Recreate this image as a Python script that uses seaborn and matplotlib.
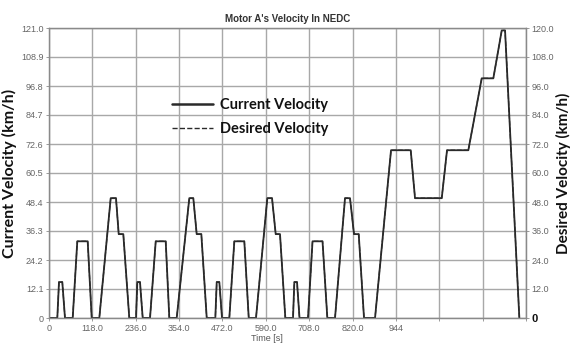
import matplotlib
matplotlib.use("Agg")
import matplotlib.pyplot as plt
import seaborn as sns
import pandas as pd

# ---- data ----
time_s = [0, 22.6, 27.2, 36.2, 43.5, 64.5, 77.0, 105.3, 116.2, 136.9, 167.9, 182.3, 189.7, 202.2, 218.5,
          236.8, 240.3, 247.6, 255.0, 274.9, 290.4, 317.6, 327.4, 347.5, 381.8, 392.7, 401.9, 414.5, 429.2,
          452.6, 456.4, 463.5, 470.8, 490.7, 504.3, 531.5, 543.5, 563.3, 594.1, 606.9, 616.9, 628.6, 643.1,
          664.0, 667.6, 674.9, 681.7, 704.8, 717.1, 744.3, 757.4, 778.3, 805.5, 819.1, 830.0, 842.8, 857.2,
          887.2, 930.7, 984.3, 996.0, 1068.7, 1083.1, 1141.1, 1177.5, 1209.1, 1232.0, 1241.0, 1279.9]
current_velocity = [0, 0, 15, 15, 0, 0, 32, 32, 0, 0, 50, 50, 35, 35, 0,
                    0, 15, 15, 0, 0, 32, 32, 0, 0, 50, 50, 35, 35, 0,
                    0, 15, 15, 0, 0, 32, 32, 0, 0, 50, 50, 35, 35, 0,
                    0, 15, 15, 0, 0, 32, 32, 0, 0, 50, 50, 35, 35, 0,
                    0, 70, 70, 50, 50, 70, 70, 100, 100, 120, 120, 0]
desired_velocity = [0, 0, 15, 15, 0, 0, 32, 32, 0, 0, 50, 50, 35, 35, 0,
                    0, 15, 15, 0, 0, 32, 32, 0, 0, 50, 50, 35, 35, 0,
                    0, 15, 15, 0, 0, 32, 32, 0, 0, 50, 50, 35, 35, 0,
                    0, 15, 15, 0, 0, 32, 32, 0, 0, 50, 50, 35, 35, 0,
                    0, 70, 70, 50, 50, 70, 70, 100, 100, 120, 120, 0]

x_ticks = [0, 118, 236, 354, 472, 590, 708, 826, 944, 1062, 1180, 1298]
x_tick_labels = ["0", "118.0", "236.0", "354.0", "472.0", "590.0", "708.0", "820.0", "944", "", "", ""]
left_ticks = [0, 12.1, 24.2, 36.3, 48.4, 60.5, 72.6, 84.7, 96.8, 108.9, 121.0]
left_tick_labels = ["0", "12.1", "24.2", "36.3", "48.4", "60.5", "72.6", "84.7", "96.8", "108.9", "121.0"]
right_ticks = [0, 12, 24, 36, 48, 60, 72, 84, 96, 108, 120]
right_tick_labels = ["0", "12.0", "24.0", "36.0", "48.0", "60.0", "72.0", "84.0", "96.0", "108.0", "120.0"]

df = pd.DataFrame({"t": time_s, "cur": current_velocity, "des": desired_velocity})

sns.set_theme(style="whitegrid")
plt.rcParams["font.family"] = ["Liberation Sans", "DejaVu Sans"]

fig = plt.figure(figsize=(5.71, 3.43), dpi=100)
ax = fig.add_axes([49/571, 1-318/343, 477/571, 290/343])
ax2 = ax.twinx()

line_col = "#2a2a2a"
sns.lineplot(data=df, x="t", y="cur", ax=ax, estimator=None, sort=False,
             color=line_col, linewidth=1.3, label="Current Velocity", legend=False)
sns.lineplot(data=df, x="t", y="des", ax=ax, estimator=None, sort=False,
             color=line_col, linewidth=0.9, linestyle="--", label="Desired Velocity", legend=False)

ax.set_xlim(0, 1298)
ax.set_ylim(0, 121)
ax2.set_ylim(0, 120)
ax.set_xticks(x_ticks)
ax.set_xticklabels(x_tick_labels)
ax.set_yticks(left_ticks)
ax.set_yticklabels(left_tick_labels)
ax2.set_yticks(right_ticks)
ax2.set_yticklabels(right_tick_labels)

ax.grid(True, color="#a8a8a8", linewidth=1.0)
ax2.grid(False)
for a in (ax, ax2):
    for s in a.spines.values():
        s.set_color("#8a8a8a")
        s.set_linewidth(0.9)
    a.tick_params(axis="both", which="both", labelsize=6.5, labelcolor="#666666",
                  length=2.5, width=0.6, color="#8a8a8a", pad=1.5)
ax.tick_params(axis="y", left=True)
ax.tick_params(axis="x", bottom=True)
ax2.tick_params(axis="y", right=True)

# bold right-side zero
rl = ax2.get_yticklabels()
rl[0].set_fontweight("bold")
rl[0].set_color("#111111")
rl[0].set_fontsize(8)

ax.set_title("Motor A's Velocity In NEDC", fontsize=7, fontweight="bold", color="#333333", pad=4)
ax.set_xlabel("Time [s]", fontsize=6.5, color="#555555", labelpad=0)
ax.xaxis.set_label_coords(0.457, -0.055)
ax.set_ylabel("Current Velocity (km/h)", fontsize=11.5, fontweight="bold", family=["Lato", "DejaVu Sans"], color="#111111")
ax.yaxis.set_label_coords(-0.067, 0.5)
ax2.set_ylabel("Desired Velocity (km/h)", fontsize=11, fontweight="bold", family=["Lato", "DejaVu Sans"], color="#111111")
ax2.yaxis.set_label_coords(1.062, 0.5)

lines = ax.get_lines()
h1, h2 = lines[0], lines[1]
leg = ax.legend([h1, h2], ["Current Velocity", "Desired Velocity"], loc="upper left",
                bbox_to_anchor=(165/571, 1-91/343), bbox_transform=fig.transFigure,
                frameon=False, borderpad=0, handlelength=2.8, handletextpad=0.5, labelspacing=0.65,
                prop={"family": ["Lato", "DejaVu Sans"], "weight": "bold", "size": 10.5})
for t in leg.get_texts():
    t.set_color("#111111")
leg.get_lines()[0].set_linewidth(1.8)
leg.get_lines()[1].set_linewidth(1.0)

fig.savefig("out.png", dpi=100)
